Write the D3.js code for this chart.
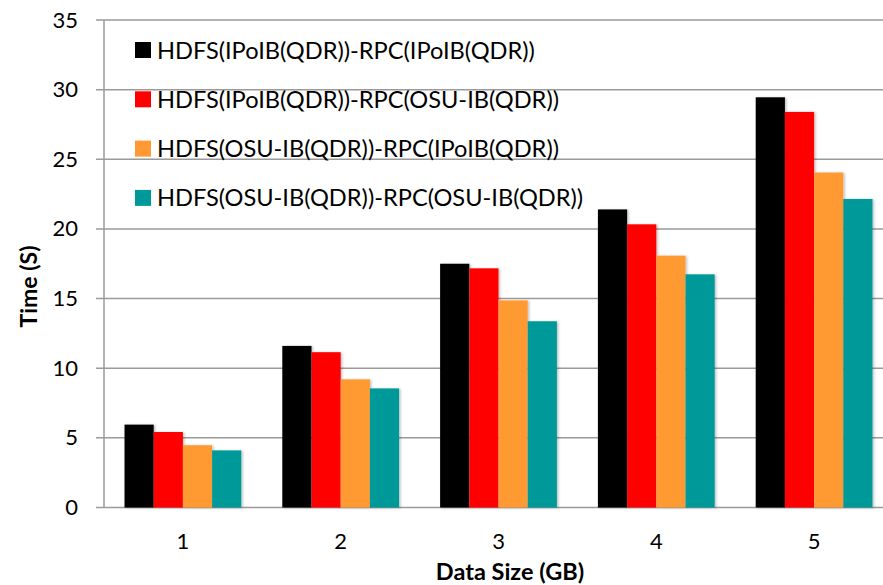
<!DOCTYPE html>
<html>
<head>
<meta charset="utf-8">
<script src="https://cdn.jsdelivr.net/npm/d3@7"></script>
<style>
  html, body { margin: 0; padding: 0; background: #fff; }
  svg { display: block; }
</style>
</head>
<body>
<svg id="chart" width="883" height="585"></svg>
<script>
// Data sizes in GB
const categories = ["1", "2", "3", "4", "5"];
const seriesNames = [
  "HDFS(IPoIB(QDR))-RPC(IPoIB(QDR))",
  "HDFS(IPoIB(QDR))-RPC(OSU-IB(QDR))",
  "HDFS(OSU-IB(QDR))-RPC(IPoIB(QDR))",
  "HDFS(OSU-IB(QDR))-RPC(OSU-IB(QDR))"
];
const ipoibIpoib = [5.95, 11.6, 17.5, 21.4, 29.45];
const ipoibOsu   = [5.42, 11.15, 17.17, 20.33, 28.4];
const osuIpoib   = [4.47, 9.2, 14.87, 18.08, 24.05];
const osuOsu     = [4.1, 8.55, 13.37, 16.74, 22.15];
const yTicks = [0, 5, 10, 15, 20, 25, 30, 35];
const colors = ["#000000", "#ff0000", "#ff9933", "#009999"];

const seriesValues = [ipoibIpoib, ipoibOsu, osuIpoib, osuOsu];

const svg = d3.select("#chart");
const font = "Lato, 'Open Sans', sans-serif";
const gridColor = "#9a9a9a";

const x0 = d3.scaleBand().domain(categories).range([104, 893]).paddingInner(0.26).paddingOuter(0.13);
const x1 = d3.scaleBand().domain(d3.range(seriesNames.length)).range([0, x0.bandwidth()]).padding(0);
const y = d3.scaleLinear().domain([0, 35]).range([507.5, 20]);

const defs = svg.append("defs");
const shadow = defs.append("filter").attr("id", "barShadow").attr("x", "-20%").attr("y", "-5%").attr("width", "150%").attr("height", "115%");
shadow.append("feDropShadow").attr("dx", 1.5).attr("dy", 0.5).attr("stdDeviation", 1.2).attr("flood-color", "#000").attr("flood-opacity", 0.25);

// Horizontal gridlines
svg.append("g").selectAll("line").data(yTicks).join("line")
  .attr("x1", 96).attr("x2", 883)
  .attr("y1", d => y(d)).attr("y2", d => y(d))
  .attr("stroke", gridColor).attr("stroke-width", 1.5);

// Y axis line
svg.append("line").attr("x1", 104).attr("x2", 104).attr("y1", y(35)).attr("y2", y(0))
  .attr("stroke", gridColor).attr("stroke-width", 1.5);

// Y tick labels
const yAxis = d3.axisLeft(y).tickValues(yTicks).tickSize(0).tickPadding(0);
const gy = svg.append("g").attr("transform", "translate(78,0)").call(yAxis);
gy.select(".domain").remove();
gy.selectAll("text").attr("font-family", font).attr("font-size", 22).attr("fill", "#000");

// Bars
const groups = svg.append("g").selectAll("g").data(categories).join("g")
  .attr("transform", d => `translate(${x0(d)},0)`);
groups.selectAll("rect")
  .data((c, ci) => seriesValues.map((vals, si) => ({ si, v: vals[ci] })))
  .join("rect")
  .attr("x", d => x1(d.si))
  .attr("width", x1.bandwidth())
  .attr("y", d => y(d.v))
  .attr("height", d => y(0) - y(d.v))
  .attr("fill", d => colors[d.si])
  .attr("filter", "url(#barShadow)");

// X tick labels
const xAxis = d3.axisBottom(x0).tickSize(0).tickPadding(0);
const gx = svg.append("g").attr("transform", "translate(0,533.5)").call(xAxis);
gx.select(".domain").remove();
gx.selectAll("text").attr("font-family", font).attr("font-size", 22).attr("fill", "#000");

// Axis titles
svg.append("text").attr("x", 510).attr("y", 580).attr("text-anchor", "middle")
  .attr("font-family", font).attr("font-weight", "bold").attr("font-size", 23.5)
  .text("Data Size (GB)");
svg.append("text").attr("transform", "translate(37,286.5) rotate(-90)").attr("text-anchor", "middle")
  .attr("font-family", font).attr("font-weight", "bold").attr("font-size", 23)
  .text("Time (S)");

// Legend
const legend = svg.append("g").selectAll("g").data(seriesNames).join("g")
  .attr("transform", (d, i) => `translate(135,${50 + i * 49.3})`);
legend.append("rect").attr("x", 0).attr("y", -8).attr("width", 16).attr("height", 16)
  .attr("fill", (d, i) => colors[i]);
legend.append("text").attr("x", 22).attr("y", 8.5)
  .attr("font-family", font).attr("font-size", 23.6).attr("fill", "#000")
  .text(d => d);
</script>
</body>
</html>
